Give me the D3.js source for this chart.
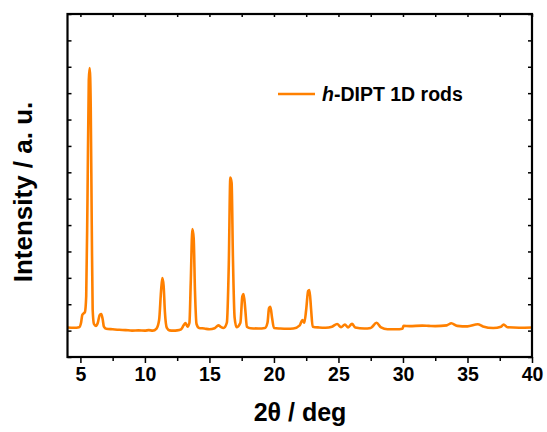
<!DOCTYPE html>
<html>
<head>
<meta charset="utf-8">
<script src="https://cdn.jsdelivr.net/npm/d3@7"></script>
<style>
  body { margin: 0; background: #fff; }
  text { font-family: "Liberation Sans", Arial, sans-serif; font-weight: bold; }
</style>
</head>
<body>
<svg id="chart" width="547" height="432"></svg>
<script>
// 2theta positions (deg)
var twoTheta = [4.0, 4.5, 4.9, 5.05, 5.15, 5.25, 5.35, 5.45, 5.55, 5.65, 5.72, 5.8, 5.88, 5.95, 6.05, 6.2, 6.35, 6.5, 6.62, 6.72, 6.82,
  7.0, 7.5, 8.0, 8.5, 9.0, 9.5, 10.0, 10.3, 10.6, 10.9, 11.1, 11.25, 11.35, 11.45, 11.55, 11.7, 11.9,
  12.2, 12.5, 12.8, 13.0, 13.15, 13.3, 13.45, 13.55, 13.68, 13.78, 13.88, 14.0, 14.2, 14.6,
  15.0, 15.4, 15.7, 15.85, 16.1, 16.35, 16.5, 16.62, 16.72, 16.82, 16.95, 17.1, 17.4, 17.55, 17.65, 17.78, 17.9,
  18.2, 18.8, 19.3, 19.5, 19.62, 19.72, 19.85, 20.0, 20.5, 21.0, 21.5, 22.0, 22.2, 22.35, 22.5, 22.65, 22.75, 22.88,
  23.0, 23.5, 24.0, 24.5, 24.9, 25.2, 25.5, 25.75, 26.05, 26.3, 27.0, 27.5, 27.95, 28.3, 28.8, 29.5, 29.95,
  30.05, 30.5, 31.5, 32.0, 32.5, 33.4, 33.75, 34.2, 35.0, 35.8, 36.2, 37.0, 37.6, 37.8, 38.1, 39.0, 40.0];

// intensity (counts, arbitrary)
var intensity = [1120, 1110, 1130, 1300, 1600, 1650, 1700, 2300, 6000, 10500, 10950, 9500, 5000, 1800, 1250, 1180, 1300, 1600, 1630, 1450, 1150,
  1070, 1050, 1030, 1020, 1000, 1010, 1000, 1020, 1000, 1080, 1400, 2500, 2990, 2700, 1700, 1100, 1010,
  1000, 1010, 1050, 1200, 1290, 1150, 1300, 2800, 4850, 4500, 2500, 1250, 1100, 1080,
  1050, 1090, 1200, 1150, 1100, 1300, 3500, 6800, 6600, 3800, 1500, 1130, 1300, 2300, 2390, 1800, 1150,
  1090, 1080, 1100, 1300, 1850, 1900, 1500, 1100, 1080, 1070, 1080, 1200, 1400, 1300, 1800, 2500, 2540, 1800,
  1150, 1120, 1110, 1150, 1250, 1130, 1230, 1120, 1260, 1120, 1080, 1100, 1300, 1120, 1050, 1050, 1070,
  1180, 1170, 1190, 1180, 1170, 1200, 1280, 1180, 1160, 1240, 1160, 1100, 1150, 1230, 1130, 1110, 1120];

var xTicks = [5, 10, 15, 20, 25, 30, 35, 40];
var xMinorTicks = [7.5, 12.5, 17.5, 22.5, 27.5, 32.5, 37.5];
var yTicks = [0, 1000, 2000, 3000, 4000, 5000, 6000, 7000, 8000, 9000, 10000, 11000, 12000, 13000];
var seriesName = "-DIPT 1D rods";

var margin = {left: 67.5, right: 15, top: 14, bottom: 75};
var W = 547, H = 432;
var w = W - margin.left - margin.right, h = H - margin.top - margin.bottom;

var svg = d3.select("#chart");
var g = svg.append("g").attr("transform", "translate(" + margin.left + "," + margin.top + ")");

var x = d3.scaleLinear().domain([4, 40]).range([0, w]);
var y = d3.scaleLinear().domain([0, 13000]).range([h, 0]);

var pts = twoTheta.map(function(d, i) { return [d, intensity[i]]; });

var line = d3.line()
  .x(function(d) { return x(d[0]); })
  .y(function(d) { return y(d[1]); })
  .curve(d3.curveMonotoneX);

g.append("path")
  .datum(pts)
  .attr("d", line)
  .attr("fill", "none")
  .attr("stroke", "#ff8000")
  .attr("stroke-width", 2.6)
  .attr("stroke-linejoin", "round");

// bottom axis, outward ticks
var bottom = g.append("g").attr("transform", "translate(0," + h + ")")
  .call(d3.axisBottom(x).tickValues(xTicks).tickSize(6).tickPadding(4).tickFormat(d3.format("d")));
g.append("g").attr("transform", "translate(0," + h + ")")
  .call(d3.axisBottom(x).tickValues(xMinorTicks).tickSize(4).tickFormat(""));

// top axis, small inward ticks
g.append("g")
  .call(d3.axisTop(x).tickValues(xTicks.concat(xMinorTicks)).tickSize(-3).tickFormat(""));

// left + right, inward ticks, no labels
g.append("g").call(d3.axisLeft(y).tickValues(yTicks).tickSize(-4).tickFormat(""));
g.append("g").attr("transform", "translate(" + w + ",0)")
  .call(d3.axisRight(y).tickValues(yTicks).tickSize(-4).tickFormat(""));

g.selectAll(".domain").remove();
g.selectAll(".tick line").attr("stroke", "#000").attr("stroke-width", 1.5);

// frame
g.append("rect").attr("width", w).attr("height", h)
  .attr("fill", "none").attr("stroke", "#000").attr("stroke-width", 2.2);

bottom.selectAll("text").attr("font-size", 19.5).attr("fill", "#000")
  .attr("font-family", "Liberation Sans, Arial, sans-serif").attr("font-weight", "bold");

// axis titles
svg.append("text")
  .attr("x", 300).attr("y", 421)
  .attr("text-anchor", "middle")
  .attr("font-size", 25)
  .text("2θ / deg");

svg.append("text")
  .attr("transform", "translate(32,192) rotate(-90)")
  .attr("text-anchor", "middle")
  .attr("font-size", 26)
  .text("Intensity / a. u.");

// legend
svg.append("line")
  .attr("x1", 278).attr("x2", 315).attr("y1", 94).attr("y2", 94)
  .attr("stroke", "#ff8000").attr("stroke-width", 2.6);
var lg = svg.append("text").attr("x", 322).attr("y", 100.5).attr("font-size", 19.5);
lg.append("tspan").attr("font-style", "italic").text("h");
lg.append("tspan").text(seriesName);
</script>
</body>
</html>
